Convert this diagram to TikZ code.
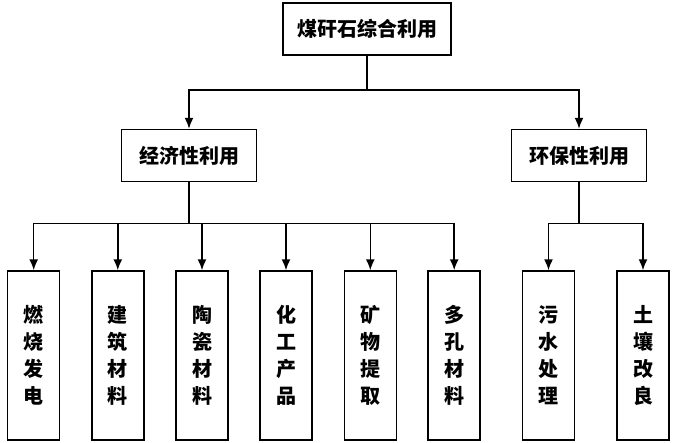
\documentclass[tikz,border=0pt]{standalone}
\usepackage{fontspec}
\newfontfamily\cjk{Noto Sans CJK SC}
\usetikzlibrary{arrows.meta}

\begin{document}
\begin{tikzpicture}[x=1pt,y=-1pt,>={Latex[length=11pt,width=9pt]},
box/.style={draw,line width=1.5pt,inner sep=0pt,align=center,
  font=\cjk\bfseries\fontsize{20}{27}\selectfont},
topbox/.style={box,minimum width=168pt,minimum height=52pt},
midbox/.style={box,minimum width=135pt,minimum height=52pt},
leafbox/.style={box,minimum width=52pt,minimum height=169pt},
link/.style={line width=1.5pt}]
\useasboundingbox (0,0) rectangle (674,442);
\node[topbox] (root) at (367,29) {煤矸石综合利用};
\node[midbox] (econ) at (189,155.5) {经济性利用};
\node[midbox] (env) at (579,155.5) {环保性利用};
\foreach \i/\x/\t in {1/33.7/{燃\\烧\\发\\电},2/117.8/{建\\筑\\材\\料},
  3/202/{陶\\瓷\\材\\料},4/286/{化\\工\\产\\品},5/370.3/{矿\\物\\提\\取},
  6/454.2/{多\\孔\\材\\料},7/548.5/{污\\水\\处\\理},8/643/{土\\壤\\改\\良}}
  \node[leafbox] (b\i) at (\x,355.5) {\t};
\coordinate (j1) at (367,90);
\coordinate (j2) at (189,223.5);
\coordinate (j3) at (579,223.5);
\draw[link] (root) -- (j1);
\draw[link,->] (j1) -| (econ);
\draw[link,->] (j1) -| (env);
\draw[link] (econ) -- (j2);
\draw[link] (env) -- (j3);
\foreach \i in {1,...,6}
  \draw[link,->] (j2) -| (b\i);
\foreach \i in {7,8}
  \draw[link,->] (j3) -| (b\i);
\end{tikzpicture}
\end{document}
